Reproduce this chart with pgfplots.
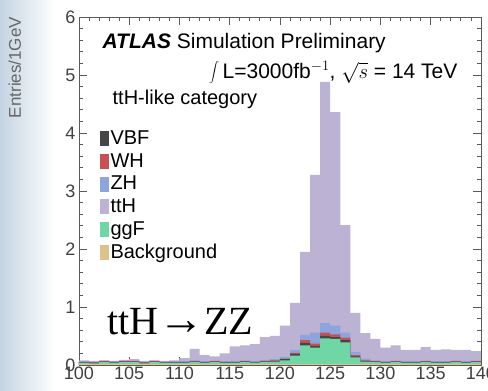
\documentclass[border=0pt]{standalone}
\usepackage{pgfplots}
\usepackage{pgfplotstable}
\pgfplotsset{compat=1.18}
\usepackage{fontspec}
\setmainfont{Liberation Sans}
\newfontfamily\seriffont{Liberation Serif}

\definecolor{cTTH}{RGB}{188,178,212}
\definecolor{cZH}{RGB}{140,165,220}
\definecolor{cWH}{RGB}{200,80,85}
\definecolor{cVBF}{RGB}{70,70,70}
\definecolor{cGGF}{RGB}{110,215,165}
\definecolor{cBKG}{RGB}{220,195,140}
\definecolor{axgray}{RGB}{90,90,90}

% cumulative tops of the stack, per 1 GeV bin (lower edge)
\pgfplotstableread{
x   bkg  ggf  vbf  wh    zh    tth
100 0.02 0.04 0.05 0.055 0.065 0.08
101 0.02 0.03 0.04 0.045 0.055 0.07
102 0.02 0.05 0.06 0.065 0.075 0.08
103 0.02 0.04 0.05 0.055 0.065 0.07
104 0.02 0.05 0.06 0.065 0.075 0.09
105 0.02 0.05 0.06 0.065 0.075 0.10
106 0.02 0.03 0.04 0.045 0.055 0.07
107 0.02 0.05 0.06 0.065 0.075 0.08
108 0.02 0.04 0.05 0.055 0.060 0.07
109 0.02 0.04 0.05 0.055 0.065 0.08
110 0.02 0.04 0.05 0.055 0.065 0.12
111 0.02 0.05 0.06 0.065 0.080 0.28
112 0.02 0.04 0.05 0.055 0.065 0.17
113 0.02 0.05 0.06 0.065 0.075 0.15
114 0.02 0.04 0.05 0.055 0.065 0.20
115 0.02 0.04 0.05 0.055 0.070 0.32
116 0.02 0.05 0.06 0.065 0.080 0.34
117 0.02 0.04 0.05 0.055 0.070 0.36
118 0.02 0.05 0.06 0.070 0.090 0.48
119 0.02 0.06 0.07 0.080 0.100 0.50
120 0.02 0.08 0.10 0.110 0.140 0.68
121 0.02 0.16 0.19 0.210 0.260 1.07
122 0.02 0.34 0.38 0.430 0.520 1.95
123 0.02 0.30 0.33 0.370 0.560 3.28
124 0.02 0.46 0.50 0.560 0.720 4.88
125 0.02 0.45 0.48 0.530 0.680 4.36
126 0.02 0.39 0.43 0.470 0.560 2.41
127 0.02 0.13 0.15 0.170 0.220 0.90
128 0.02 0.06 0.07 0.080 0.110 0.55
129 0.02 0.05 0.06 0.065 0.080 0.45
130 0.02 0.04 0.05 0.055 0.065 0.30
131 0.02 0.05 0.06 0.065 0.075 0.34
132 0.02 0.04 0.05 0.055 0.065 0.26
133 0.02 0.04 0.05 0.055 0.065 0.26
134 0.02 0.05 0.06 0.065 0.075 0.31
135 0.02 0.04 0.05 0.055 0.065 0.26
136 0.02 0.04 0.05 0.055 0.065 0.27
137 0.02 0.05 0.06 0.065 0.075 0.26
138 0.02 0.04 0.05 0.055 0.065 0.26
139 0.02 0.05 0.06 0.065 0.075 0.24
140 0.02 0.05 0.06 0.065 0.075 0.24
}\histo

\begin{document}
\begin{tikzpicture}
\useasboundingbox (0,0) rectangle (488pt,391pt);
\shade[left color={rgb,255:red,196;green,212;blue,226}, right color=white] (0,0) rectangle (55pt,391pt);
\begin{axis}[
    at={(79pt,26pt)}, anchor=south west,
    width=402pt, height=348pt, scale only axis,
    xmin=100, xmax=140, ymin=0, ymax=6,
    xtick={100,105,...,140}, minor x tick num=4,
    ytick={0,1,...,6}, minor y tick num=4,
    tick align=inside,
    major tick length=8pt, minor tick length=4pt,
    axis line style={axgray, line width=0.8pt},
    every tick/.style={axgray, line width=0.8pt},
    /pgf/number format/assume math mode=true,
    tick label style={font=\fontsize{18}{20}\selectfont, text=black!75},
    x tick label style={text height=13pt, text depth=0pt, yshift=2pt},
    ylabel={Entries/1GeV},
    ylabel style={at={(axis description cs:-0.16,1.01)}, anchor=east, font=\fontsize{17}{19}\selectfont, text=black!60},
    legend image code/.code={\fill[#1] (0pt,-7pt) rectangle (8pt,7pt);},
    legend cell align=left,
    legend style={at={(axis description cs:0.052,0.68)}, anchor=north west,
        draw=none, fill=none, font=\fontsize{20}{21}\selectfont,
        inner sep=0pt, row sep=3.5pt,
        /tikz/every even column/.style={column sep=2pt}},
]
\addlegendimage{cVBF}
\addlegendimage{cWH}
\addlegendimage{cZH}
\addlegendimage{cTTH}
\addlegendimage{cGGF}
\addlegendimage{cBKG}

\addplot[const plot, fill=cTTH, draw=none, forget plot] table[x=x, y=tth] {\histo} \closedcycle;
\addplot[const plot, fill=cZH, draw=none, forget plot] table[x=x, y=zh] {\histo} \closedcycle;
\addplot[const plot, fill=cWH, draw=none, forget plot] table[x=x, y=wh] {\histo} \closedcycle;
\addplot[const plot, fill=cVBF, draw=none, forget plot] table[x=x, y=vbf] {\histo} \closedcycle;
\addplot[const plot, fill=cGGF, draw=none, forget plot] table[x=x, y=ggf] {\histo} \closedcycle;
\addplot[const plot, fill=cBKG, draw=none, forget plot] table[x=x, y=bkg] {\histo} \closedcycle;

\legend{VBF, WH, ZH, ttH, ggF, Background}

\node[anchor=west, font=\fontsize{21}{23}\selectfont] at (axis description cs:0.05,0.925)
    {\textbf{\textit{ATLAS}} Simulation Preliminary};
\node[anchor=west, font=\fontsize{21}{23}\selectfont] at (axis description cs:0.315,0.84)
    {$\displaystyle\int$\,L=3000fb$^{-1}$, $\sqrt{s}$ = 14 TeV};
\node[anchor=west, font=\fontsize{20}{22}\selectfont] at (axis description cs:0.075,0.762)
    {ttH-like category};
\node[anchor=west, font=\seriffont\fontsize{40}{44}\selectfont, inner sep=0pt] at (axis description cs:0.07,0.124)
    {ttH{\fontsize{46}{46}\selectfont→}ZZ};
\end{axis}
\end{tikzpicture}
\end{document}
